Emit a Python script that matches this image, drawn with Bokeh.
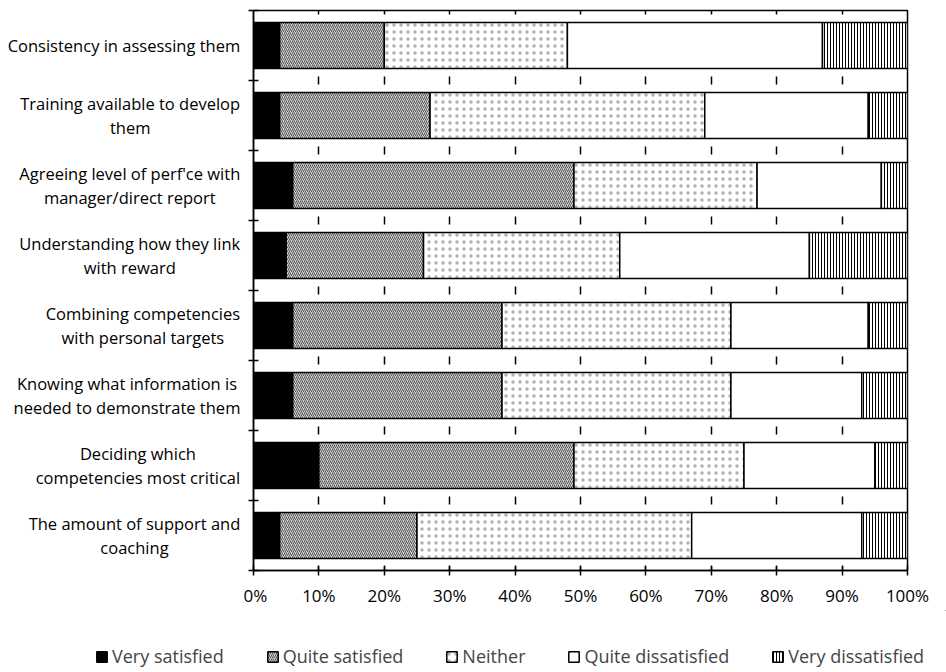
from bokeh.plotting import figure
from bokeh.models import (ColumnDataSource, FixedTicker, PrintfTickFormatter,
                          Legend, LegendItem)
from bokeh.layouts import column, row
from bokeh.core.properties import value
from bokeh.embed import file_html
from bokeh.resources import INLINE

# ---------------- data ----------------
categories = [
    "Consistency in assessing them",
    "Training available to develop\nthem",
    "Agreeing level of perf'ce with\nmanager/direct report",
    "Understanding how they link\nwith reward",
    "Combining competencies\nwith personal targets",
    "Knowing what information is\nneeded to demonstrate them",
    "Deciding which\ncompetencies most critical",
    "The amount of support and\ncoaching",
]
very_satisfied = [4, 4, 6, 5, 6, 6, 10, 4]
quite_satisfied = [16, 23, 43, 21, 32, 32, 39, 21]
neither = [28, 42, 28, 30, 35, 35, 26, 42]
quite_dissatisfied = [39, 25, 19, 29, 21, 20, 20, 26]
very_dissatisfied = [13, 6, 4, 15, 6, 7, 5, 7]
series_names = ["Very satisfied", "Quite satisfied", "Neither",
                "Quite dissatisfied", "Very dissatisfied"]
x_ticks = [0, 10, 20, 30, 40, 50, 60, 70, 80, 90, 100]

FONT = "Open Sans"
CAT_SIZE = 16.5

# series styles
FILLS = ["black", "#cfcfcf", "white", "white", "white"]
HATCH = [" ", "/", ".", " ", "|"]
HATCH_COLORS = ["black", "#555555", "#b0b0b0", "black", "black"]
HATCH_SCALES = [4, 4, 7, 4, 3]

# approximate Open Sans advance widths (em) to right-align label blocks
_W = {' ': 0.26, 'a': 0.556, 'b': 0.613, 'c': 0.48, 'd': 0.613, 'e': 0.561,
      'f': 0.336, 'g': 0.546, 'h': 0.615, 'i': 0.258, 'j': 0.258, 'k': 0.529,
      'l': 0.258, 'm': 0.935, 'n': 0.615, 'o': 0.602, 'p': 0.613, 'q': 0.613,
      'r': 0.408, 's': 0.477, 't': 0.353, 'u': 0.615, 'v': 0.499, 'w': 0.774,
      'x': 0.523, 'y': 0.5, 'z': 0.469, 'C': 0.632, 'T': 0.556, 'A': 0.633,
      'D': 0.718, 'K': 0.617, 'U': 0.735, '/': 0.371, "'": 0.221}


def block_width(txt, size):
    return max(sum(_W.get(ch, 0.55) for ch in line) for line in txt.split("\n")) * size


n = len(categories)
ypos = [float(n - 1 - i) for i in range(n)]
keys = ["vs", "qs", "ne", "qd", "vd"]
src = ColumnDataSource(dict(y=ypos, vs=very_satisfied, qs=quite_satisfied,
                            ne=neither, qd=quite_dissatisfied, vd=very_dissatisfied))

TOP, BOTTOM = 10, 40
UPPER_H = 610
LAB_W = 243

# ---------------- main chart ----------------
p = figure(width=946 - LAB_W, height=UPPER_H, x_range=(0, 100), y_range=(-0.5, n - 0.5),
           output_backend="svg", toolbar_location=None,
           min_border_left=10, min_border_right=39,
           min_border_top=TOP, min_border_bottom=BOTTOM,
           background_fill_color="white", border_fill_color="white")

rs = p.hbar_stack(keys, y="y", height=0.66, source=src,
                  fill_color=FILLS, hatch_pattern=HATCH, hatch_color=HATCH_COLORS,
                  hatch_scale=HATCH_SCALES, hatch_weight=[1] * 5,
                  line_color="black", line_width=1.5)

xa = p.xaxis[0]
xa.ticker = FixedTicker(ticks=x_ticks)
xa.formatter = PrintfTickFormatter(format="%d%%")
xa.major_tick_in = 5
xa.major_tick_out = 5
xa.major_tick_line_color = "black"
xa.major_tick_line_width = 1.5
xa.minor_tick_line_color = None
xa.axis_line_color = "black"
xa.axis_line_width = 1.5
xa.major_label_text_font = FONT
xa.major_label_text_font_size = "17px"
xa.major_label_text_color = "black"
xa.major_label_standoff = 8

ya = p.yaxis[0]
ya.ticker = FixedTicker(ticks=[], minor_ticks=[i - 0.5 for i in range(n + 1)])
ya.major_tick_line_color = None
ya.minor_tick_in = 5
ya.minor_tick_out = 5
ya.minor_tick_line_color = "black"
ya.minor_tick_line_width = 1.5
ya.axis_line_color = "black"
ya.axis_line_width = 1.5
ya.major_label_standoff = 0

p.xgrid.ticker = FixedTicker(ticks=x_ticks[1:-1])
p.xgrid.grid_line_color = "black"
p.xgrid.grid_line_width = 1.5
p.xgrid.grid_line_dash = "8 62"
p.xgrid.grid_line_dash_offset = 4
p.ygrid.grid_line_color = None
p.outline_line_color = "black"
p.outline_line_width = 1.5

# ---------------- category labels ----------------
lab = figure(width=LAB_W, height=UPPER_H, x_range=(0, LAB_W), y_range=p.y_range,
             output_backend="svg", toolbar_location=None,
             x_axis_location=None, y_axis_location=None,
             min_border_left=0, min_border_right=0,
             min_border_top=TOP, min_border_bottom=BOTTOM,
             background_fill_color="white", border_fill_color="white")
lab.outline_line_color = None
lab.grid.visible = False
lab_src = ColumnDataSource(dict(
    x=[240 - block_width(t, CAT_SIZE) / 2 for t in categories], y=ypos, text=categories))
lab.text(x="x", y="y", text="text", source=lab_src,
         text_align="center", text_baseline="middle",
         text_font=value(FONT), text_font_size=value(f"{CAT_SIZE}px"),
         text_color="black", text_line_height=1.05)

# ---------------- legend ----------------
leg = figure(width=946, height=672 - UPPER_H, x_range=(0, 1), y_range=(0, 1),
             output_backend="svg", toolbar_location=None,
             x_axis_location=None, y_axis_location=None,
             min_border_left=0, min_border_right=0, min_border_top=0, min_border_bottom=0,
             background_fill_color="white", border_fill_color="white")
leg.outline_line_color = None
leg.grid.visible = False
dummies = []
for i in range(len(series_names)):
    # legend-only glyphs, placed outside the visible range of this strip
    dummies.append(leg.hbar(y=[5], left=[5], right=[6], height=0.5, fill_color=FILLS[i],
                            hatch_pattern=HATCH[i], hatch_color=HATCH_COLORS[i],
                            hatch_scale=HATCH_SCALES[i], hatch_weight=1,
                            line_color="black", line_width=1.5))
items = [LegendItem(label=name, renderers=[r]) for name, r in zip(series_names, dummies)]
legend = Legend(items=items, orientation="horizontal", location=(95, 4),
                border_line_color=None, background_fill_alpha=0,
                padding=0, margin=0, spacing=42,
                glyph_width=13, glyph_height=13, label_standoff=4,
                label_text_font=FONT, label_text_font_size="18px",
                label_height=20)
leg.add_layout(legend)

layout = column(row(lab, p), leg)
open("out.html", "w").write(file_html(layout, INLINE))
